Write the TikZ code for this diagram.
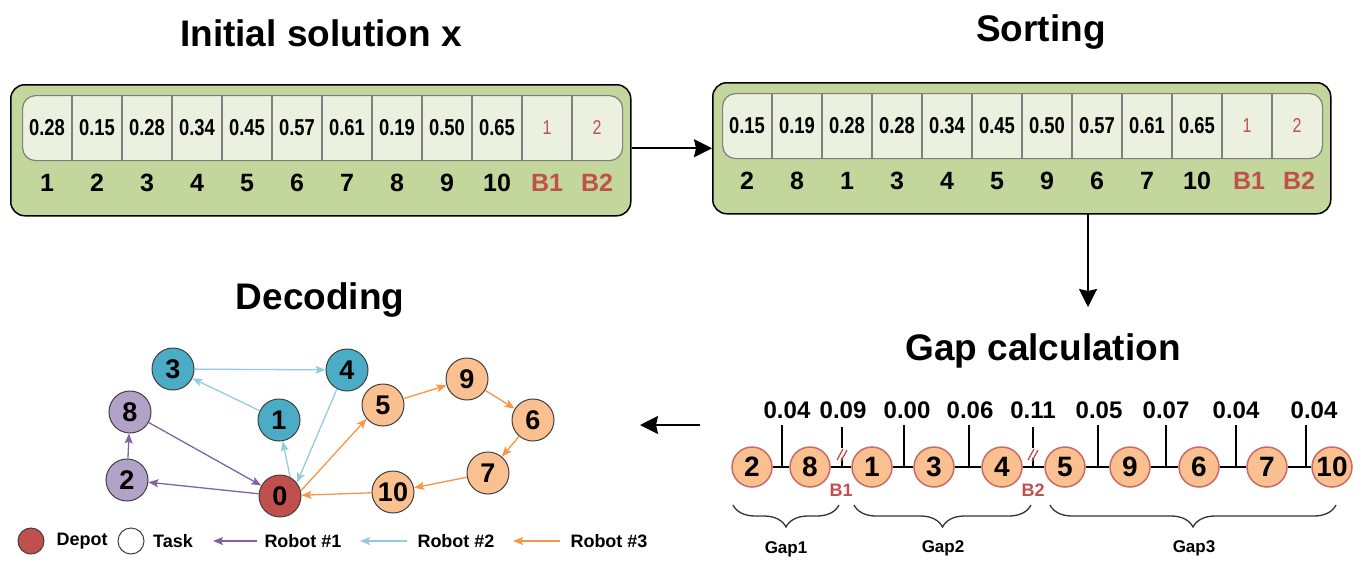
\documentclass[tikz,border=0pt]{standalone}
\usepackage{fontspec}
\setmainfont{Liberation Sans}
\newfontfamily\narrowfont{Liberation Sans}[FakeStretch=0.8]
\usetikzlibrary{arrows.meta,decorations.pathreplacing}
\definecolor{olivebg}{HTML}{C3D69B}
\definecolor{stripbg}{HTML}{EBF1DE}
\definecolor{cellline}{HTML}{7F7F7F}
\definecolor{bred}{HTML}{C0504D}
\definecolor{teal}{HTML}{4BACC6}
\definecolor{lpurple}{HTML}{B3A2C7}
\definecolor{lorange}{HTML}{FAC090}
\definecolor{epurple}{HTML}{8064A2}
\definecolor{eblue}{HTML}{93CDDD}
\definecolor{eorange}{HTML}{F79646}
\definecolor{nodeline}{HTML}{404040}
\begin{document}
\begin{tikzpicture}[x=1pt,y=-1pt,
  title/.style={font=\fontsize{37}{40}\selectfont\bfseries, anchor=base, inner sep=0},
  greenbox/.style={draw=black, line width=1.5pt, fill=olivebg, rounded corners=14pt, anchor=north west, inner sep=0},
  strip/.style={draw=cellline, line width=1.2pt, fill=stripbg, rounded corners=13pt, anchor=north west, inner sep=0},
  cline/.style={draw=cellline, line width=1.2pt},
  val/.style={font=\narrowfont\fontsize{23}{25}\selectfont\bfseries, inner sep=0},
  bval/.style={font=\narrowfont\fontsize{20}{22}\selectfont, text=bred, inner sep=0},
  lab/.style={font=\fontsize{25}{28}\selectfont\bfseries, anchor=base, inner sep=0},
  blab/.style={lab, text=bred},
  bigarrow/.style={line width=2pt, -{Stealth[length=18pt,width=18pt,inset=2pt]}},
  gc/.style={circle, draw=bred!85, line width=1.5pt, fill=lorange, minimum size=40pt, inner sep=0, font=\fontsize{28}{30}\selectfont\bfseries},
  gline/.style={line width=1.5pt},
  gv/.style={font=\fontsize{24}{26}\selectfont\bfseries, anchor=base, inner sep=0},
  bk/.style={font=\fontsize{18}{20}\selectfont\bfseries, text=bred, inner sep=0},
  gapbrace/.style={decorate, decoration={brace, amplitude=22pt, mirror}, line width=1.3pt, draw=black!80},
  gaplab/.style={font=\fontsize{17}{19}\selectfont\bfseries, inner sep=0},
  gn/.style={circle, draw=nodeline, line width=1pt, minimum size=42pt, inner sep=0, font=\fontsize{27}{29}\selectfont\bfseries},
  e1/.style={draw=epurple, line width=1.3pt, -{Stealth[length=10pt,width=8pt,inset=2pt]}},
  e2/.style={draw=eblue, line width=1.3pt, -{Stealth[length=10pt,width=8pt,inset=2pt]}},
  e3/.style={draw=eorange, line width=1.3pt, -{Stealth[length=10pt,width=8pt,inset=2pt]}},
  leg/.style={font=\fontsize{18}{20}\selectfont\bfseries, inner sep=0}
]
\useasboundingbox (0,0) rectangle (1362,560);

% ---------- titles
\node[title] (t1) at (321,46.7) {Initial solution x};
\node[title] (t2) at (1041,41) {Sorting};
\node[title] (t3) at (320,309) {Decoding};
\node[title] (t4) at (1043,360) {Gap calculation};

% ---------- initial solution box
\node[greenbox, minimum width=620pt, minimum height=131pt] (box1) at (10,84) {};
\node[strip, minimum width=600pt, minimum height=65pt] (strip1) at (22,95) {};
\foreach \k in {1,...,11} \draw[cline] ({22+50*\k},95) -- ({22+50*\k},160);
\foreach \v [count=\i] in {0.28,0.15,0.28,0.34,0.45,0.57,0.61,0.19,0.50,0.65}
  \node[val] (lv\i) at ({47+50*(\i-1)},127.5) {\v};
\node[bval] (lv11) at (547,127.5) {1};
\node[bval] (lv12) at (597,127.5) {2};
\foreach \v [count=\i] in {1,2,3,4,5,6,7,8,9,10}
  \node[lab] (ll\i) at ({47+50*(\i-1)},191) {\v};
\node[blab] (ll11) at (547,191) {B1};
\node[blab] (ll12) at (597,191) {B2};

% ---------- sorting box
\node[greenbox, minimum width=618pt, minimum height=131pt] (box2) at (712,82) {};
\node[strip, minimum width=600pt, minimum height=65pt] (strip2) at (722,93) {};
\foreach \k in {1,...,11} \draw[cline] ({722+50*\k},93) -- ({722+50*\k},158);
\foreach \v [count=\i] in {0.15,0.19,0.28,0.28,0.34,0.45,0.50,0.57,0.61,0.65}
  \node[val] (rv\i) at ({747+50*(\i-1)},125.5) {\v};
\node[bval] (rv11) at (1247,125.5) {1};
\node[bval] (rv12) at (1297,125.5) {2};
\foreach \v [count=\i] in {2,8,1,3,4,5,9,6,7,10}
  \node[lab] (rl\i) at ({747+50*(\i-1)},189) {\v};
\node[blab] (rl11) at (1249,189) {B1};
\node[blab] (rl12) at (1299,189) {B2};

% ---------- big arrows
\draw[bigarrow] (box1.east |- box2.west) -- (box2.west);
\coordinate (dtop) at (1088,213);
\coordinate (dbot) at (1088,307);
\draw[bigarrow] (dtop) -- (dbot);
\coordinate (lstart) at (700,425);
\coordinate (lend) at (640,425);
\draw[bigarrow] (lstart) -- (lend);

% ---------- gap calculation
\foreach \x in {782,904,969,1098,1166,1236,1306}
  \draw[gline] (\x,425) -- (\x,467);
\foreach \x in {842,1033}{
  \draw[gline] (\x,427) -- (\x,448);
  \draw[gline] (\x,458) -- (\x,467);
  \draw[draw=bred, line width=1.3pt] ({\x-5},460) -- ({\x+1},449);
  \draw[draw=bred, line width=1.3pt] ({\x-1},461) -- ({\x+5},450);
}
\foreach \n/\x in {2/752,8/810,1/872,3/934,4/1002,5/1065,9/1130,6/1199,7/1267,10/1332}
  \node[gc] (g\n) at (\x,467) {\n};
\foreach \a/\b in {2/8,8/1,1/3,3/4,4/5,5/9,9/6,6/7,7/10}
  \draw[gline] (g\a) -- (g\b);
\foreach \v/\x [count=\i] in {0.04/787,0.09/843,0.00/907,0.06/970,0.11/1033,0.05/1099,0.07/1166,0.04/1236,0.04/1314}
  \node[gv] (gv\i) at (\x,418) {\v};
\node[bk] (bk1) at (841,490) {B1};
\node[bk] (bk2) at (1033,490) {B2};
\draw[gapbrace] (733,505) -- (839,505);
\draw[gapbrace] (854,505) -- (1031,505);
\draw[gapbrace] (1050,505) -- (1336,505);
\node[gaplab] (gap1) at (786,549) {Gap1};
\node[gaplab] (gap2) at (943,548) {Gap2};
\node[gaplab] (gap3) at (1194,548) {Gap3};

% ---------- decoding graph
\node[gn, fill=teal] (n3) at (173,369) {3};
\node[gn, fill=teal] (n4) at (347,370) {4};
\node[gn, fill=teal] (n1) at (279,420) {1};
\node[gn, fill=lpurple] (n8) at (130,412) {8};
\node[gn, fill=lpurple] (n2) at (127,480) {2};
\node[gn, fill=bred] (n0) at (280,496) {0};
\node[gn, fill=lorange] (n5) at (383,405) {5};
\node[gn, fill=lorange] (n9) at (467,379) {9};
\node[gn, fill=lorange] (n6) at (533,420) {6};
\node[gn, fill=lorange] (n7) at (488,473) {7};
\node[gn, fill=lorange] (n10) at (393,492) {10};

\draw[e1] (n0) -- (n2);
\draw[e1] (n2) -- (n8);
\draw[e1] (n8) -- (n0);
\draw[e2] (n0.62) -- (n1.-80);
\draw[e2] (n1) -- (n3);
\draw[e2] (n3) -- (n4);
\draw[e2] (n4.-118) -- (n0.38);
\draw[e3] (n0.14) -- (n5.-140);
\draw[e3] (n5) -- (n9);
\draw[e3] (n9) -- (n6);
\draw[e3] (n6) -- (n7);
\draw[e3] (n7) -- (n10);
\draw[e3] (n10) -- (n0);

% ---------- legend
\node[circle, draw=nodeline, line width=1pt, fill=bred, minimum size=26pt, inner sep=0] (ldepot) at (31,541) {};
\node[leg] (tdepot) at (82,541) {Depot};
\node[circle, draw=nodeline, line width=1pt, fill=white, minimum size=26pt, inner sep=0] (ltask) at (131,541) {};
\node[leg] (ttask) at (173,541) {Task};
\coordinate (a1s) at (257,541); \coordinate (a1e) at (213,541);
\draw[e1] (a1s) -- (a1e);
\node[leg] (tr1) at (303,541) {Robot \#1};
\coordinate (a2s) at (407,541); \coordinate (a2e) at (360,541);
\draw[e2] (a2s) -- (a2e);
\node[leg] (tr2) at (456,541) {Robot \#2};
\coordinate (a3s) at (560,541); \coordinate (a3e) at (513,541);
\draw[e3] (a3s) -- (a3e);
\node[leg] (tr3) at (609,541) {Robot \#3};
\end{tikzpicture}
\end{document}
